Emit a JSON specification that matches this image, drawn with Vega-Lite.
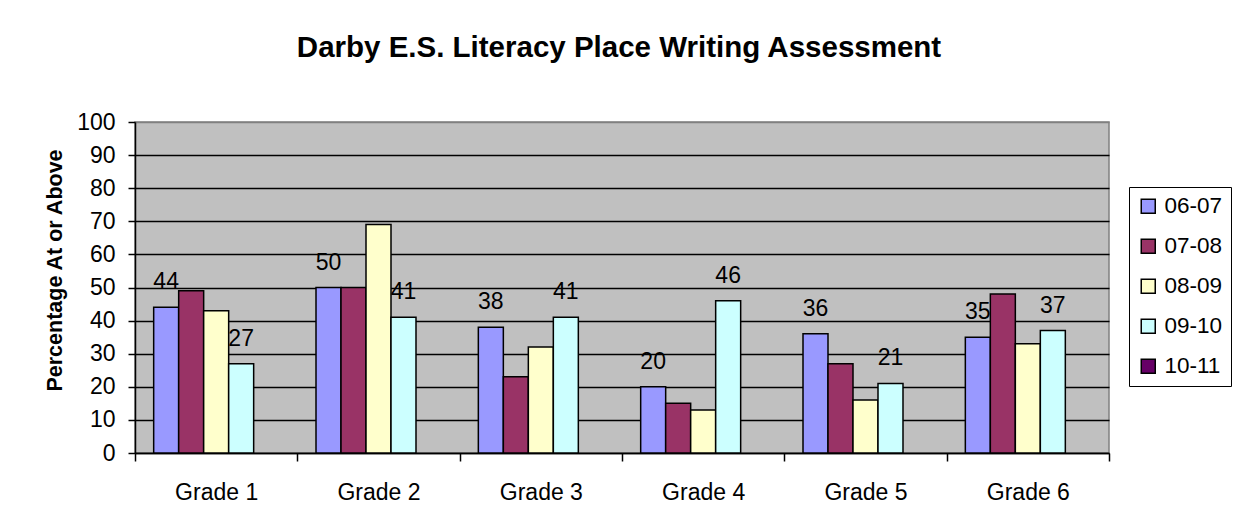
{
  "$schema": "https://vega.github.io/schema/vega-lite/v6.json",
  "width": 974,
  "height": 331,
  "autosize": "none",
  "padding": {"left": 135, "top": 122, "right": 127, "bottom": 76},
  "background": "white",
  "title": {
    "text": "Darby E.S. Literacy Place Writing Assessment",
    "font": "Liberation Sans",
    "fontSize": 29.5,
    "fontWeight": "bold",
    "color": "black",
    "anchor": "middle",
    "baseline": "alphabetic",
    "offset": 25,
    "dx": -3
  },
  "config": {
    "font": "Liberation Sans",
    "view": {"fill": "#C0C0C0", "stroke": "#808080", "strokeWidth": 1.5}
  },
  "data": {
    "values": [
      {"grade": "Grade 1", "year": "06-07", "value": 44},
      {"grade": "Grade 1", "year": "07-08", "value": 49},
      {"grade": "Grade 1", "year": "08-09", "value": 43},
      {"grade": "Grade 1", "year": "09-10", "value": 27},
      {"grade": "Grade 2", "year": "06-07", "value": 50},
      {"grade": "Grade 2", "year": "07-08", "value": 50},
      {"grade": "Grade 2", "year": "08-09", "value": 69},
      {"grade": "Grade 2", "year": "09-10", "value": 41},
      {"grade": "Grade 3", "year": "06-07", "value": 38},
      {"grade": "Grade 3", "year": "07-08", "value": 23},
      {"grade": "Grade 3", "year": "08-09", "value": 32},
      {"grade": "Grade 3", "year": "09-10", "value": 41},
      {"grade": "Grade 4", "year": "06-07", "value": 20},
      {"grade": "Grade 4", "year": "07-08", "value": 15},
      {"grade": "Grade 4", "year": "08-09", "value": 13},
      {"grade": "Grade 4", "year": "09-10", "value": 46},
      {"grade": "Grade 5", "year": "06-07", "value": 36},
      {"grade": "Grade 5", "year": "07-08", "value": 27},
      {"grade": "Grade 5", "year": "08-09", "value": 16},
      {"grade": "Grade 5", "year": "09-10", "value": 21},
      {"grade": "Grade 6", "year": "06-07", "value": 35},
      {"grade": "Grade 6", "year": "07-08", "value": 48},
      {"grade": "Grade 6", "year": "08-09", "value": 33},
      {"grade": "Grade 6", "year": "09-10", "value": 37}
    ]
  },
  "encoding": {
    "x": {
      "field": "grade",
      "type": "nominal",
      "scale": {"paddingInner": 0, "paddingOuter": 0},
      "axis": {
        "title": null,
        "labelAngle": 0,
        "labelFontSize": 23,
        "labelColor": "black",
        "labelPadding": 20,
        "tickBand": "extent",
        "tickSize": 8,
        "tickColor": "black",
        "tickWidth": 1.5,
        "domainColor": "black",
        "domainWidth": 1.5,
        "grid": false
      }
    },
    "xOffset": {
      "field": "year",
      "type": "nominal",
      "scale": {
        "domain": ["06-07", "07-08", "08-09", "09-10", "10-11"],
        "paddingInner": 0,
        "paddingOuter": 0.747
      }
    },
    "y": {
      "field": "value",
      "type": "quantitative",
      "scale": {"domain": [0, 100]},
      "axis": {
        "title": "Percentage At or Above",
        "titleFontSize": 21.5,
        "titleFontWeight": "bold",
        "titleColor": "black",
        "titleX": -80,
        "titleY": 148,
        "titleAngle": -90,
        "titleAlign": "center",
        "titleBaseline": "middle",
        "values": [0, 10, 20, 30, 40, 50, 60, 70, 80, 90, 100],
        "grid": true,
        "gridColor": {"condition": {"test": "datum.value === 100", "value": "#808080"}, "value": "black"},
        "gridWidth": 1.5,
        "domainColor": "black",
        "domainWidth": 1.5,
        "tickColor": "black",
        "tickWidth": 1.5,
        "tickSize": 7,
        "labelFontSize": 23,
        "labelColor": "black",
        "labelPadding": 13
      }
    }
  },
  "layer": [
    {
      "mark": {"type": "bar", "stroke": "black", "strokeWidth": 1.5},
      "encoding": {
        "color": {
          "field": "year",
          "type": "nominal",
          "scale": {
            "domain": ["06-07", "07-08", "08-09", "09-10", "10-11"],
            "range": ["#9999FF", "#993366", "#FFFFCC", "#CCFFFF", "#660066"]
          },
          "legend": {
            "title": null,
            "orient": "none",
            "legendX": 994,
            "legendY": 65,
            "labelFontSize": 22.5,
            "labelColor": "black",
            "labelOffset": 5,
            "symbolType": "square",
            "symbolSize": 196,
            "symbolStrokeColor": "black",
            "symbolStrokeWidth": 1.5,
            "strokeColor": "black",
            "fillColor": "white",
            "padding": 8,
            "rowPadding": 17
          }
        }
      }
    },
    {
      "transform": [{"filter": {"field": "year", "oneOf": ["06-07", "09-10"]}}],
      "mark": {"type": "text", "fontSize": 23, "baseline": "alphabetic", "dy": -18, "color": "black"},
      "encoding": {
        "text": {"field": "value", "type": "quantitative"}
      }
    }
  ]
}
